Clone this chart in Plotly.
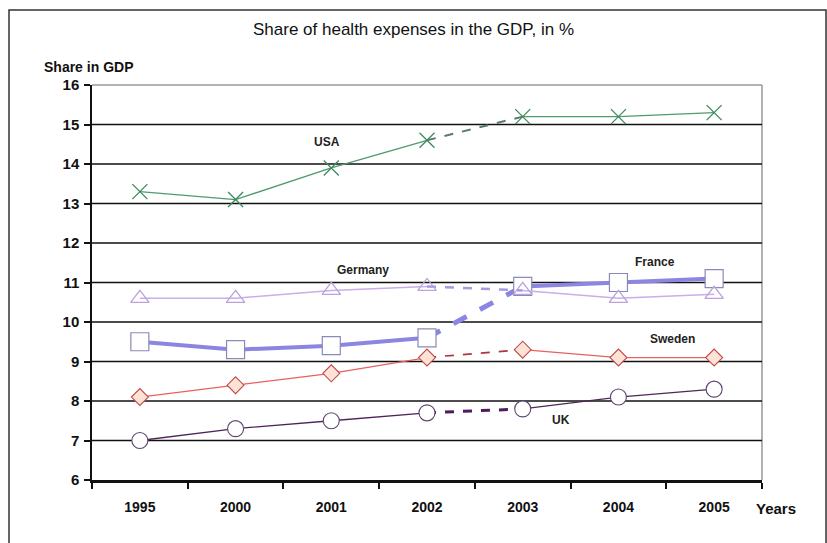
import plotly.graph_objects as go

years = ["1995", "2000", "2001", "2002", "2003", "2004", "2005"]
usa = [13.3, 13.1, 13.9, 14.6, 15.2, 15.2, 15.3]
germany = [10.6, 10.6, 10.8, 10.9, 10.8, 10.6, 10.7]
france = [9.5, 9.3, 9.4, 9.6, 10.9, 11.0, 11.1]
sweden = [8.1, 8.4, 8.7, 9.1, 9.3, 9.1, 9.1]
uk = [7.0, 7.3, 7.5, 7.7, 7.8, 8.1, 8.3]
y_ticks = list(range(6, 17))

W, H = 827, 543
L, R, T, B = 92, 762, 85, 480
PW, PH = R - L, B - T

def px(x):
    return (x - L) / PW

def py(y):
    return (B - y) / PH

NARROW = "Liberation Sans Narrow, Arial Narrow, Arial, sans-serif"
BOLD = "Liberation Sans, Arial, sans-serif"

fig = go.Figure()

styles = [
    ("France", france, "#8a86e2", 4, "#8a86e2", 5,
     dict(symbol="square", size=18, color="white", line=dict(color="#8a8ab8", width=1.2))),
    ("USA", usa, "#4f9a6e", 1.3, "#5c7a6a", 2,
     dict(symbol="x-thin-open", size=15, color="#3e8a5e", line=dict(color="#3e8a5e", width=1.3))),
    ("Germany", germany, "#c9aee8", 1.5, "#a89ae0", 2.5,
     dict(symbol="triangle-up-open", size=16, color="#bca2dc", line=dict(color="#bca2dc", width=1.3))),
    ("Sweden", sweden, "#e86060", 1.2, "#b03444", 1.6,
     dict(symbol="diamond", size=13, color="#fde3d5", line=dict(color="#c04848", width=1.1))),
    ("UK", uk, "#4e2658", 1.3, "#4e1c5c", 3,
     dict(symbol="circle", size=16, color="white", line=dict(color="#5e4470", width=1.1))),
]

for name, vals, lc, lw, dc, dw, mk in styles:
    fig.add_trace(go.Scatter(x=years[:4], y=vals[:4], mode="lines",
                             line=dict(color=lc, width=lw), hoverinfo="skip", showlegend=False))
    fig.add_trace(go.Scatter(x=years[3:5], y=vals[3:5], mode="lines",
                             line=dict(color=dc, width=dw, dash="dash"), hoverinfo="skip", showlegend=False))
    fig.add_trace(go.Scatter(x=years[4:], y=vals[4:], mode="lines",
                             line=dict(color=lc, width=lw), hoverinfo="skip", showlegend=False))
    fig.add_trace(go.Scatter(x=years, y=vals, mode="markers", marker=mk, name=name, showlegend=False))

labels = [
    ("USA", 1.955, 14.56),
    ("Germany", 2.33, 11.32),
    ("France", 5.38, 11.53),
    ("Sweden", 5.56, 9.58),
    ("UK", 4.40, 7.53),
]
annotations = []
for txt, xi, yv in labels:
    annotations.append(dict(x=xi, y=yv, xref="x", yref="y", text="<b>%s</b>" % txt,
                            xanchor="center", yanchor="middle",
                            showarrow=False, font=dict(family=BOLD, size=12, color="#222")))

annotations += [
    dict(x=px(413), y=py(30), xref="paper", yref="paper", xanchor="center", yanchor="middle",
         text="Share of health expenses in the GDP, in %",
         showarrow=False, font=dict(family=NARROW, size=17, color="#111")),
    dict(x=px(42), y=py(67), xref="paper", yref="paper", xanchor="left", yanchor="middle",
         text="<b>Share in GDP</b>",
         showarrow=False, font=dict(family=NARROW, size=14, color="#111")),
    dict(x=px(776), y=py(508), xref="paper", yref="paper", xanchor="center", yanchor="middle",
         text="<b>Years</b>",
         showarrow=False, font=dict(family=NARROW, size=15, color="#111")),
]

shapes = [
    dict(type="rect", xref="paper", yref="paper", x0=px(9), x1=px(826), y0=py(546), y1=py(10),
         line=dict(color="#333", width=1.5), layer="below"),
    dict(type="line", xref="paper", yref="paper", x0=0, x1=1, y0=1, y1=1,
         line=dict(color="#999", width=1.5), layer="below"),
    dict(type="line", xref="paper", yref="paper", x0=1, x1=1, y0=0, y1=1,
         line=dict(color="#999", width=1.5), layer="below"),
]
for v in y_ticks[1:-1]:
    shapes.append(dict(type="line", xref="paper", yref="y", x0=0, x1=1, y0=v, y1=v,
                       line=dict(color="#111", width=1.5), layer="below"))

fig.update_layout(
    width=W, height=H,
    margin=dict(l=L, r=W - R, t=T, b=H - B, pad=0),
    paper_bgcolor="white", plot_bgcolor="white",
    annotations=annotations, shapes=shapes,
    xaxis=dict(type="category", categoryorder="array", categoryarray=years,
               range=[-0.5, 6.5], showgrid=False, zeroline=False,
               showline=True, linecolor="#111", linewidth=2.5,
               ticks="outside", tickson="boundaries", ticklen=6, tickcolor="#111", tickwidth=1.5,
               tickvals=years, ticktext=["<b>%s</b>" % y for y in years],
               tickfont=dict(family=NARROW, size=14, color="#111"), ticklabelstandoff=12,
               fixedrange=True),
    yaxis=dict(range=[6, 16], tickvals=y_ticks, ticktext=["<b>%d</b>" % v for v in y_ticks],
               showgrid=False, zeroline=False,
               showline=True, linecolor="#111", linewidth=1.5,
               ticks="outside", ticklen=6, tickcolor="#111", tickwidth=1.5,
               tickfont=dict(family=NARROW, size=15, color="#111"), ticklabelstandoff=2,
               fixedrange=True),
)

fig.write_html("out.html")
